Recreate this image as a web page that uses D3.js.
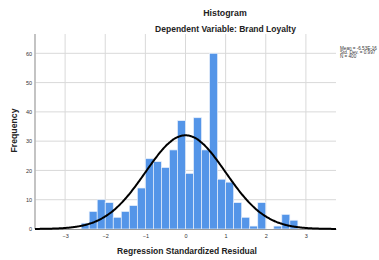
<!DOCTYPE html>
<html>
<head>
<meta charset="utf-8">
<script src="https://cdn.jsdelivr.net/npm/d3@7"></script>
<style>
  html, body { margin: 0; padding: 0; background: #fff; }
  svg { display: block; font-family: "Liberation Sans", Arial, sans-serif; }
</style>
</head>
<body>
<svg id="chart" width="379" height="260"></svg>
<script>
// ---- data ----
const binStarts = [-2.6,-2.4,-2.2,-2.0,-1.8,-1.6,-1.4,-1.2,-1.0,-0.8,-0.6,-0.4,-0.2,0.0,0.2,0.4,0.6,0.8,1.0,1.2,1.4,1.6,1.8,2.0,2.2,2.4,2.6];
const counts    = [2,6,10,9,4,6,8,14,24,23,21,27,37,19,38,27,60,17,16,9,4,1,9,0,1,5,3];
const binWidth = 0.2;
const xTicks = [-3,-2,-1,0,1,2,3];
const yTicks = [0,10,20,30,40,50,60];
const stats = { mean: -6.53e-16, sd: 0.997, n: 400 };
const statLabels = ["Mean = -6.53E-16", "Std. Dev. = 0.997", "N = 400"];
const title = "Histogram";
const subtitle = "Dependent Variable: Brand Loyalty";
const xLabel = "Regression Standardized Residual";
const yLabel = "Frequency";

// ---- layout ----
const svg = d3.select("#chart");
const L = 35, R = 336, T = 34, B = 229;
const x = d3.scaleLinear().domain([-3.75, 3.75]).range([L, R]);
const y = d3.scaleLinear().domain([0, 60]).range([B, 53.3]);

// gridlines
const grid = svg.append("g");
grid.selectAll("line.v").data(xTicks).join("line")
  .attr("x1", d => x(d)).attr("x2", d => x(d))
  .attr("y1", T).attr("y2", B)
  .attr("stroke", "#d9d9d9").attr("stroke-width", 1);
grid.selectAll("line.h").data(yTicks.filter(d => d > 0)).join("line")
  .attr("x1", L).attr("x2", R)
  .attr("y1", d => y(d)).attr("y2", d => y(d))
  .attr("stroke", "#d9d9d9").attr("stroke-width", 1);

// bars
svg.append("g").selectAll("rect").data(binStarts.map((s, i) => ({ s, c: counts[i] })).filter(d => d.c > 0)).join("rect")
  .attr("x", d => x(d.s))
  .attr("width", d => x(d.s + binWidth) - x(d.s))
  .attr("y", d => y(d.c))
  .attr("height", d => y(0) - y(d.c))
  .attr("fill", "#5495e8")
  .attr("stroke", "#e8f0fb").attr("stroke-width", 0.7);

// axes
const xAxis = d3.axisBottom(x).tickValues(xTicks).tickSize(0).tickPadding(5);
const gx = svg.append("g").attr("transform", `translate(0,${B})`).call(xAxis);
gx.select(".domain").attr("stroke", "#9a9a9a").attr("stroke-width", 1);
gx.selectAll("text").attr("font-size", 5.5).attr("fill", "#333");

const yAxis = d3.axisLeft(y).tickValues(yTicks).tickSize(0).tickPadding(3);
const gy = svg.append("g").attr("transform", `translate(${L},0)`).call(yAxis);
gy.select(".domain").remove();
gy.selectAll("text").attr("font-size", 5.5).attr("fill", "#333");
svg.append("line").attr("x1", L).attr("x2", L).attr("y1", T).attr("y2", B)
  .attr("stroke", "#b5b5b5").attr("stroke-width", 1.6);

// normal curve from stated stats
const pts = d3.range(0, 301).map(i => {
  const v = -3.75 + 7.5 * i / 300;
  const z = (v - stats.mean) / stats.sd;
  return [v, stats.n * binWidth * Math.exp(-0.5 * z * z) / (stats.sd * Math.sqrt(2 * Math.PI))];
});
svg.append("path").datum(pts)
  .attr("d", d3.line().x(d => x(d[0])).y(d => y(d[1])).curve(d3.curveBasis))
  .attr("fill", "none").attr("stroke", "#000").attr("stroke-width", 2);

// titles
svg.append("text").attr("x", 225).attr("y", 15.5).attr("text-anchor", "middle")
  .attr("font-size", 8.8).attr("font-weight", "bold").attr("fill", "#222").text(title);
svg.append("text").attr("x", 225.5).attr("y", 31.8).attr("text-anchor", "middle")
  .attr("font-size", 8.5).attr("font-weight", "bold").attr("fill", "#222").text(subtitle);
svg.append("text").attr("x", 187).attr("y", 253.8).attr("text-anchor", "middle")
  .attr("font-size", 8.5).attr("font-weight", "bold").attr("fill", "#222").text(xLabel);
svg.append("text").attr("transform", "translate(16.5,130.5) rotate(-90)").attr("text-anchor", "middle")
  .attr("font-size", 8.7).attr("font-weight", "bold").attr("fill", "#222").text(yLabel);

// stats legend
svg.append("g").selectAll("text").data(statLabels).join("text")
  .attr("x", 340).attr("y", (d, i) => 49.5 + i * 4.3)
  .attr("font-size", 4.6).attr("fill", "#333").text(d => d);
</script>
</body>
</html>
